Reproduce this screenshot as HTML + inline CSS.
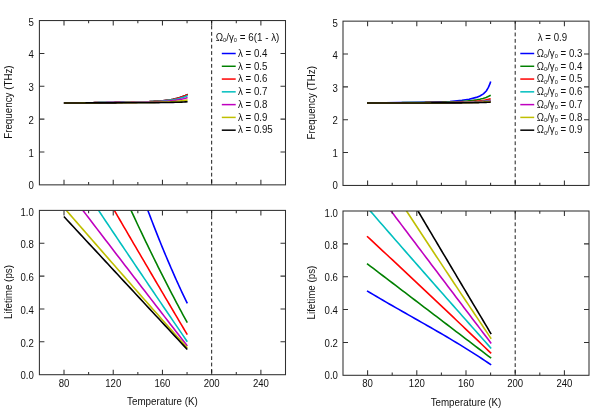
<!DOCTYPE html>
<html><head><meta charset="utf-8"><title>plot</title>
<style>
html,body{margin:0;padding:0;background:#fff;}
body{width:600px;height:420px;overflow:hidden;}
svg{display:block;opacity:0.999;will-change:transform;font-family:"Liberation Sans",sans-serif;fill:#111;}
</style></head><body>
<svg width="600" height="420" viewBox="0 0 600 420">
<rect width="600" height="420" fill="#fff"/>
<defs>
<clipPath id="cBL"><rect x="39.4" y="210.4" width="246.1" height="164.3"/></clipPath>
<clipPath id="cBR"><rect x="343" y="211" width="246" height="164.3"/></clipPath>
</defs>
<path d="M63.90 103.00 L65.96 102.98 L68.02 102.96 L70.08 102.93 L72.15 102.91 L74.21 102.89 L76.27 102.87 L78.33 102.85 L80.39 102.83 L82.45 102.80 L84.52 102.78 L86.58 102.76 L88.64 102.74 L90.70 102.71 L92.76 102.69 L94.82 102.67 L96.89 102.65 L98.95 102.62 L101.01 102.60 L103.07 102.57 L105.13 102.55 L107.19 102.53 L109.26 102.50 L111.32 102.48 L113.38 102.45 L115.44 102.42 L117.50 102.39 L119.56 102.37 L121.63 102.34 L123.69 102.30 L125.75 102.27 L127.81 102.24 L129.87 102.20 L131.94 102.16 L134.00 102.12 L136.06 102.07 L138.12 102.02 L140.18 101.97 L142.24 101.91 L144.30 101.85 L146.37 101.77 L148.43 101.69 L150.49 101.60 L152.55 101.50 L154.61 101.39 L156.67 101.26 L158.74 101.11 L160.80 100.95 L162.86 100.76 L164.92 100.54 L166.98 100.29 L169.04 100.01 L171.11 99.68 L173.17 99.30 L175.23 98.86 L177.29 98.36 L179.35 97.78 L181.41 97.11 L183.48 96.34 L185.54 95.44 L187.60 94.40" fill="none" stroke="#0000ff" stroke-width="1.6" stroke-linejoin="round"/>
<path d="M63.90 103.00 L65.96 102.98 L68.02 102.96 L70.08 102.93 L72.15 102.91 L74.21 102.89 L76.27 102.87 L78.33 102.85 L80.39 102.83 L82.45 102.80 L84.52 102.78 L86.58 102.76 L88.64 102.74 L90.70 102.71 L92.76 102.69 L94.82 102.67 L96.89 102.65 L98.95 102.62 L101.01 102.60 L103.07 102.57 L105.13 102.55 L107.19 102.53 L109.26 102.50 L111.32 102.48 L113.38 102.45 L115.44 102.42 L117.50 102.39 L119.56 102.37 L121.63 102.34 L123.69 102.30 L125.75 102.27 L127.81 102.24 L129.87 102.20 L131.94 102.16 L134.00 102.12 L136.06 102.07 L138.12 102.02 L140.18 101.97 L142.24 101.91 L144.30 101.85 L146.37 101.77 L148.43 101.69 L150.49 101.60 L152.55 101.50 L154.61 101.39 L156.67 101.26 L158.74 101.11 L160.80 100.95 L162.86 100.76 L164.92 100.54 L166.98 100.29 L169.04 100.01 L171.11 99.68 L173.17 99.30 L175.23 98.86 L177.29 98.36 L179.35 97.78 L181.41 97.11 L183.48 96.34 L185.54 95.44 L187.60 94.40" fill="none" stroke="#008000" stroke-width="1.6" stroke-linejoin="round"/>
<path d="M63.90 103.00 L65.96 102.98 L68.02 102.96 L70.08 102.93 L72.15 102.91 L74.21 102.89 L76.27 102.87 L78.33 102.85 L80.39 102.83 L82.45 102.80 L84.52 102.78 L86.58 102.76 L88.64 102.74 L90.70 102.71 L92.76 102.69 L94.82 102.67 L96.89 102.65 L98.95 102.62 L101.01 102.60 L103.07 102.57 L105.13 102.55 L107.19 102.53 L109.26 102.50 L111.32 102.48 L113.38 102.45 L115.44 102.42 L117.50 102.39 L119.56 102.37 L121.63 102.34 L123.69 102.30 L125.75 102.27 L127.81 102.24 L129.87 102.20 L131.94 102.16 L134.00 102.12 L136.06 102.07 L138.12 102.02 L140.18 101.97 L142.24 101.91 L144.30 101.85 L146.37 101.77 L148.43 101.69 L150.49 101.60 L152.55 101.50 L154.61 101.39 L156.67 101.26 L158.74 101.11 L160.80 100.95 L162.86 100.76 L164.92 100.54 L166.98 100.29 L169.04 100.01 L171.11 99.68 L173.17 99.30 L175.23 98.86 L177.29 98.36 L179.35 97.78 L181.41 97.11 L183.48 96.34 L185.54 95.44 L187.60 94.40" fill="none" stroke="#ff0000" stroke-width="1.6" stroke-linejoin="round"/>
<path d="M63.90 103.00 L65.96 102.98 L68.02 102.96 L70.08 102.94 L72.15 102.92 L74.21 102.90 L76.27 102.88 L78.33 102.86 L80.39 102.84 L82.45 102.82 L84.52 102.80 L86.58 102.78 L88.64 102.76 L90.70 102.74 L92.76 102.72 L94.82 102.70 L96.89 102.68 L98.95 102.66 L101.01 102.64 L103.07 102.62 L105.13 102.60 L107.19 102.58 L109.26 102.55 L111.32 102.53 L113.38 102.51 L115.44 102.48 L117.50 102.46 L119.56 102.43 L121.63 102.41 L123.69 102.38 L125.75 102.35 L127.81 102.32 L129.87 102.28 L131.94 102.25 L134.00 102.21 L136.06 102.17 L138.12 102.13 L140.18 102.08 L142.24 102.03 L144.30 101.97 L146.37 101.91 L148.43 101.84 L150.49 101.76 L152.55 101.67 L154.61 101.57 L156.67 101.46 L158.74 101.33 L160.80 101.19 L162.86 101.02 L164.92 100.83 L166.98 100.62 L169.04 100.37 L171.11 100.08 L173.17 99.76 L175.23 99.38 L177.29 98.94 L179.35 98.44 L181.41 97.85 L183.48 97.18 L185.54 96.40 L187.60 95.50" fill="none" stroke="#00bfbf" stroke-width="1.6" stroke-linejoin="round"/>
<path d="M63.90 103.00 L65.96 102.98 L68.02 102.97 L70.08 102.95 L72.15 102.94 L74.21 102.92 L76.27 102.91 L78.33 102.89 L80.39 102.88 L82.45 102.86 L84.52 102.84 L86.58 102.83 L88.64 102.81 L90.70 102.80 L92.76 102.78 L94.82 102.76 L96.89 102.75 L98.95 102.73 L101.01 102.71 L103.07 102.70 L105.13 102.68 L107.19 102.66 L109.26 102.65 L111.32 102.63 L113.38 102.61 L115.44 102.59 L117.50 102.57 L119.56 102.55 L121.63 102.53 L123.69 102.51 L125.75 102.49 L127.81 102.46 L129.87 102.44 L131.94 102.41 L134.00 102.38 L136.06 102.35 L138.12 102.32 L140.18 102.29 L142.24 102.25 L144.30 102.20 L146.37 102.16 L148.43 102.10 L150.49 102.05 L152.55 101.98 L154.61 101.91 L156.67 101.83 L158.74 101.73 L160.80 101.63 L162.86 101.50 L164.92 101.37 L166.98 101.21 L169.04 101.03 L171.11 100.82 L173.17 100.58 L175.23 100.31 L177.29 99.99 L179.35 99.63 L181.41 99.20 L183.48 98.72 L185.54 98.15 L187.60 97.50" fill="none" stroke="#bf00bf" stroke-width="1.6" stroke-linejoin="round"/>
<path d="M63.90 103.00 L65.96 102.99 L68.02 102.98 L70.08 102.97 L72.15 102.96 L74.21 102.95 L76.27 102.94 L78.33 102.93 L80.39 102.92 L82.45 102.91 L84.52 102.89 L86.58 102.88 L88.64 102.87 L90.70 102.86 L92.76 102.85 L94.82 102.84 L96.89 102.83 L98.95 102.82 L101.01 102.81 L103.07 102.80 L105.13 102.79 L107.19 102.78 L109.26 102.76 L111.32 102.75 L113.38 102.74 L115.44 102.73 L117.50 102.72 L119.56 102.70 L121.63 102.69 L123.69 102.68 L125.75 102.66 L127.81 102.65 L129.87 102.63 L131.94 102.62 L134.00 102.60 L136.06 102.58 L138.12 102.56 L140.18 102.54 L142.24 102.52 L144.30 102.49 L146.37 102.47 L148.43 102.44 L150.49 102.40 L152.55 102.37 L154.61 102.33 L156.67 102.28 L158.74 102.23 L160.80 102.17 L162.86 102.11 L164.92 102.03 L166.98 101.95 L169.04 101.85 L171.11 101.74 L173.17 101.62 L175.23 101.47 L177.29 101.31 L179.35 101.11 L181.41 100.89 L183.48 100.64 L185.54 100.34 L187.60 100.00" fill="none" stroke="#bfbf00" stroke-width="1.6" stroke-linejoin="round"/>
<path d="M63.90 103.00 L65.96 102.99 L68.02 102.99 L70.08 102.98 L72.15 102.97 L74.21 102.97 L76.27 102.96 L78.33 102.95 L80.39 102.95 L82.45 102.94 L84.52 102.93 L86.58 102.92 L88.64 102.92 L90.70 102.91 L92.76 102.90 L94.82 102.90 L96.89 102.89 L98.95 102.88 L101.01 102.88 L103.07 102.87 L105.13 102.86 L107.19 102.86 L109.26 102.85 L111.32 102.84 L113.38 102.83 L115.44 102.83 L117.50 102.82 L119.56 102.81 L121.63 102.80 L123.69 102.80 L125.75 102.79 L127.81 102.78 L129.87 102.77 L131.94 102.76 L134.00 102.75 L136.06 102.74 L138.12 102.73 L140.18 102.72 L142.24 102.71 L144.30 102.70 L146.37 102.69 L148.43 102.68 L150.49 102.66 L152.55 102.65 L154.61 102.63 L156.67 102.61 L158.74 102.59 L160.80 102.57 L162.86 102.54 L164.92 102.51 L166.98 102.48 L169.04 102.45 L171.11 102.41 L173.17 102.36 L175.23 102.31 L177.29 102.25 L179.35 102.18 L181.41 102.11 L183.48 102.02 L185.54 101.92 L187.60 101.80" fill="none" stroke="#000000" stroke-width="1.6" stroke-linejoin="round"/>
<path d="M367.00 103.00 L385.00 102.80 L400.00 102.60 L420.00 102.30 L440.00 101.90 L450.00 101.50 L462.00 100.30 L469.10 99.20 L476.30 97.40 L479.90 96.00 L483.40 93.90 L486.30 91.00 L488.40 87.40 L489.90 83.90 L490.70 81.40" fill="none" stroke="#0000ff" stroke-width="1.6" stroke-linejoin="round"/>
<path d="M367.00 103.00 L368.55 102.99 L370.09 102.97 L371.64 102.96 L373.19 102.94 L374.73 102.93 L376.28 102.91 L377.82 102.90 L379.37 102.88 L380.92 102.87 L382.46 102.85 L384.01 102.84 L385.56 102.83 L387.10 102.81 L388.65 102.80 L390.19 102.78 L391.74 102.77 L393.29 102.75 L394.83 102.74 L396.38 102.72 L397.93 102.71 L399.47 102.69 L401.02 102.68 L402.56 102.66 L404.11 102.65 L405.66 102.63 L407.20 102.62 L408.75 102.60 L410.30 102.59 L411.84 102.57 L413.39 102.55 L414.93 102.54 L416.48 102.52 L418.03 102.51 L419.57 102.49 L421.12 102.47 L422.67 102.45 L424.21 102.44 L425.76 102.42 L427.30 102.40 L428.85 102.38 L430.40 102.36 L431.94 102.34 L433.49 102.32 L435.03 102.29 L436.58 102.27 L438.13 102.24 L439.67 102.22 L441.22 102.19 L442.77 102.16 L444.31 102.12 L445.86 102.09 L447.40 102.05 L448.95 102.01 L450.50 101.97 L452.04 101.92 L453.59 101.87 L455.14 101.81 L456.68 101.74 L458.23 101.67 L459.77 101.60 L461.32 101.51 L462.87 101.42 L464.41 101.31 L465.96 101.19 L467.51 101.06 L469.05 100.91 L470.60 100.74 L472.14 100.56 L473.69 100.35 L475.24 100.11 L476.78 99.85 L478.33 99.55 L479.88 99.22 L481.42 98.84 L482.97 98.41 L484.51 97.93 L486.06 97.39 L487.61 96.78 L489.15 96.08 L490.70 95.30" fill="none" stroke="#008000" stroke-width="1.6" stroke-linejoin="round"/>
<path d="M367.00 103.00 L368.55 102.99 L370.09 102.98 L371.64 102.98 L373.19 102.97 L374.73 102.96 L376.28 102.95 L377.82 102.94 L379.37 102.94 L380.92 102.93 L382.46 102.92 L384.01 102.91 L385.56 102.90 L387.10 102.89 L388.65 102.89 L390.19 102.88 L391.74 102.87 L393.29 102.86 L394.83 102.85 L396.38 102.85 L397.93 102.84 L399.47 102.83 L401.02 102.82 L402.56 102.81 L404.11 102.80 L405.66 102.79 L407.20 102.79 L408.75 102.78 L410.30 102.77 L411.84 102.76 L413.39 102.75 L414.93 102.74 L416.48 102.73 L418.03 102.72 L419.57 102.71 L421.12 102.70 L422.67 102.69 L424.21 102.68 L425.76 102.67 L427.30 102.66 L428.85 102.65 L430.40 102.64 L431.94 102.63 L433.49 102.62 L435.03 102.60 L436.58 102.59 L438.13 102.58 L439.67 102.56 L441.22 102.55 L442.77 102.53 L444.31 102.51 L445.86 102.49 L447.40 102.47 L448.95 102.45 L450.50 102.42 L452.04 102.40 L453.59 102.37 L455.14 102.33 L456.68 102.30 L458.23 102.26 L459.77 102.22 L461.32 102.17 L462.87 102.12 L464.41 102.06 L465.96 101.99 L467.51 101.92 L469.05 101.83 L470.60 101.74 L472.14 101.64 L473.69 101.52 L475.24 101.39 L476.78 101.24 L478.33 101.08 L479.88 100.89 L481.42 100.68 L482.97 100.44 L484.51 100.17 L486.06 99.87 L487.61 99.52 L489.15 99.14 L490.70 98.70" fill="none" stroke="#ff0000" stroke-width="1.6" stroke-linejoin="round"/>
<path d="M367.00 103.00 L368.55 102.99 L370.09 102.99 L371.64 102.98 L373.19 102.98 L374.73 102.97 L376.28 102.97 L377.82 102.96 L379.37 102.96 L380.92 102.95 L382.46 102.95 L384.01 102.94 L385.56 102.94 L387.10 102.93 L388.65 102.93 L390.19 102.92 L391.74 102.92 L393.29 102.91 L394.83 102.91 L396.38 102.90 L397.93 102.90 L399.47 102.89 L401.02 102.89 L402.56 102.88 L404.11 102.88 L405.66 102.87 L407.20 102.87 L408.75 102.86 L410.30 102.85 L411.84 102.85 L413.39 102.84 L414.93 102.84 L416.48 102.83 L418.03 102.83 L419.57 102.82 L421.12 102.81 L422.67 102.81 L424.21 102.80 L425.76 102.80 L427.30 102.79 L428.85 102.78 L430.40 102.78 L431.94 102.77 L433.49 102.76 L435.03 102.75 L436.58 102.74 L438.13 102.73 L439.67 102.73 L441.22 102.72 L442.77 102.70 L444.31 102.69 L445.86 102.68 L447.40 102.67 L448.95 102.65 L450.50 102.64 L452.04 102.62 L453.59 102.60 L455.14 102.58 L456.68 102.56 L458.23 102.54 L459.77 102.51 L461.32 102.48 L462.87 102.44 L464.41 102.41 L465.96 102.37 L467.51 102.32 L469.05 102.27 L470.60 102.21 L472.14 102.14 L473.69 102.07 L475.24 101.99 L476.78 101.90 L478.33 101.79 L479.88 101.67 L481.42 101.54 L482.97 101.39 L484.51 101.22 L486.06 101.03 L487.61 100.82 L489.15 100.57 L490.70 100.30" fill="none" stroke="#00bfbf" stroke-width="1.6" stroke-linejoin="round"/>
<path d="M367.00 103.00 L368.55 103.00 L370.09 102.99 L371.64 102.99 L373.19 102.98 L374.73 102.98 L376.28 102.98 L377.82 102.97 L379.37 102.97 L380.92 102.96 L382.46 102.96 L384.01 102.96 L385.56 102.95 L387.10 102.95 L388.65 102.94 L390.19 102.94 L391.74 102.94 L393.29 102.93 L394.83 102.93 L396.38 102.92 L397.93 102.92 L399.47 102.92 L401.02 102.91 L402.56 102.91 L404.11 102.90 L405.66 102.90 L407.20 102.90 L408.75 102.89 L410.30 102.89 L411.84 102.88 L413.39 102.88 L414.93 102.87 L416.48 102.87 L418.03 102.87 L419.57 102.86 L421.12 102.86 L422.67 102.85 L424.21 102.85 L425.76 102.84 L427.30 102.84 L428.85 102.83 L430.40 102.83 L431.94 102.82 L433.49 102.81 L435.03 102.81 L436.58 102.80 L438.13 102.79 L439.67 102.79 L441.22 102.78 L442.77 102.77 L444.31 102.76 L445.86 102.75 L447.40 102.74 L448.95 102.73 L450.50 102.72 L452.04 102.71 L453.59 102.69 L455.14 102.67 L456.68 102.66 L458.23 102.64 L459.77 102.62 L461.32 102.59 L462.87 102.57 L464.41 102.54 L465.96 102.51 L467.51 102.47 L469.05 102.43 L470.60 102.38 L472.14 102.33 L473.69 102.28 L475.24 102.21 L476.78 102.14 L478.33 102.06 L479.88 101.97 L481.42 101.87 L482.97 101.75 L484.51 101.62 L486.06 101.47 L487.61 101.30 L489.15 101.11 L490.70 100.90" fill="none" stroke="#bf00bf" stroke-width="1.6" stroke-linejoin="round"/>
<path d="M367.00 103.00 L368.55 103.00 L370.09 102.99 L371.64 102.99 L373.19 102.99 L374.73 102.99 L376.28 102.98 L377.82 102.98 L379.37 102.98 L380.92 102.97 L382.46 102.97 L384.01 102.97 L385.56 102.97 L387.10 102.96 L388.65 102.96 L390.19 102.96 L391.74 102.95 L393.29 102.95 L394.83 102.95 L396.38 102.95 L397.93 102.94 L399.47 102.94 L401.02 102.94 L402.56 102.93 L404.11 102.93 L405.66 102.93 L407.20 102.93 L408.75 102.92 L410.30 102.92 L411.84 102.92 L413.39 102.91 L414.93 102.91 L416.48 102.91 L418.03 102.90 L419.57 102.90 L421.12 102.90 L422.67 102.89 L424.21 102.89 L425.76 102.89 L427.30 102.88 L428.85 102.88 L430.40 102.88 L431.94 102.87 L433.49 102.87 L435.03 102.86 L436.58 102.86 L438.13 102.85 L439.67 102.85 L441.22 102.84 L442.77 102.84 L444.31 102.83 L445.86 102.82 L447.40 102.82 L448.95 102.81 L450.50 102.80 L452.04 102.79 L453.59 102.78 L455.14 102.77 L456.68 102.76 L458.23 102.74 L459.77 102.73 L461.32 102.71 L462.87 102.69 L464.41 102.67 L465.96 102.65 L467.51 102.62 L469.05 102.59 L470.60 102.56 L472.14 102.52 L473.69 102.48 L475.24 102.44 L476.78 102.39 L478.33 102.33 L479.88 102.26 L481.42 102.19 L482.97 102.11 L484.51 102.01 L486.06 101.91 L487.61 101.79 L489.15 101.65 L490.70 101.50" fill="none" stroke="#bfbf00" stroke-width="1.6" stroke-linejoin="round"/>
<path d="M367.00 103.00 L368.55 103.00 L370.09 103.00 L371.64 102.99 L373.19 102.99 L374.73 102.99 L376.28 102.99 L377.82 102.99 L379.37 102.99 L380.92 102.98 L382.46 102.98 L384.01 102.98 L385.56 102.98 L387.10 102.98 L388.65 102.98 L390.19 102.97 L391.74 102.97 L393.29 102.97 L394.83 102.97 L396.38 102.97 L397.93 102.97 L399.47 102.96 L401.02 102.96 L402.56 102.96 L404.11 102.96 L405.66 102.96 L407.20 102.96 L408.75 102.95 L410.30 102.95 L411.84 102.95 L413.39 102.95 L414.93 102.95 L416.48 102.94 L418.03 102.94 L419.57 102.94 L421.12 102.94 L422.67 102.94 L424.21 102.93 L425.76 102.93 L427.30 102.93 L428.85 102.93 L430.40 102.93 L431.94 102.92 L433.49 102.92 L435.03 102.92 L436.58 102.91 L438.13 102.91 L439.67 102.91 L441.22 102.91 L442.77 102.90 L444.31 102.90 L445.86 102.89 L447.40 102.89 L448.95 102.88 L450.50 102.88 L452.04 102.87 L453.59 102.87 L455.14 102.86 L456.68 102.85 L458.23 102.85 L459.77 102.84 L461.32 102.83 L462.87 102.81 L464.41 102.80 L465.96 102.79 L467.51 102.77 L469.05 102.76 L470.60 102.74 L472.14 102.71 L473.69 102.69 L475.24 102.66 L476.78 102.63 L478.33 102.60 L479.88 102.56 L481.42 102.51 L482.97 102.46 L484.51 102.41 L486.06 102.34 L487.61 102.27 L489.15 102.19 L490.70 102.10" fill="none" stroke="#000000" stroke-width="1.6" stroke-linejoin="round"/>
<path d="M145.00 202.69 L146.08 205.62 L147.17 208.52 L148.25 211.42 L149.34 214.29 L150.42 217.14 L151.51 219.98 L152.59 222.80 L153.68 225.60 L154.76 228.38 L155.85 231.15 L156.93 233.89 L158.02 236.62 L159.10 239.33 L160.18 242.02 L161.27 244.70 L162.35 247.35 L163.44 249.99 L164.52 252.61 L165.61 255.21 L166.69 257.79 L167.78 260.36 L168.86 262.91 L169.95 265.43 L171.03 267.95 L172.12 270.44 L173.20 272.91 L174.28 275.37 L175.37 277.81 L176.45 280.23 L177.54 282.63 L178.62 285.01 L179.71 287.38 L180.79 289.72 L181.88 292.05 L182.96 294.36 L184.05 296.66 L185.13 298.93 L186.22 301.19 L187.30 303.43" fill="none" stroke="#0000ff" stroke-width="1.6" stroke-linejoin="round" clip-path="url(#cBL)"/>
<path d="M127.60 202.87 L129.13 206.22 L130.66 209.54 L132.19 212.86 L133.72 216.16 L135.25 219.44 L136.78 222.72 L138.32 225.97 L139.85 229.22 L141.38 232.44 L142.91 235.66 L144.44 238.86 L145.97 242.05 L147.50 245.22 L149.03 248.38 L150.56 251.52 L152.09 254.65 L153.62 257.77 L155.15 260.87 L156.68 263.95 L158.22 267.03 L159.75 270.08 L161.28 273.13 L162.81 276.16 L164.34 279.18 L165.87 282.18 L167.40 285.17 L168.93 288.14 L170.46 291.10 L171.99 294.04 L173.52 296.97 L175.05 299.89 L176.58 302.79 L178.12 305.68 L179.65 308.56 L181.18 311.42 L182.71 314.26 L184.24 317.09 L185.77 319.91 L187.30 322.71" fill="none" stroke="#008000" stroke-width="1.6" stroke-linejoin="round" clip-path="url(#cBL)"/>
<path d="M110.00 202.98 L111.98 206.39 L113.96 209.79 L115.95 213.20 L117.93 216.61 L119.91 220.01 L121.89 223.41 L123.87 226.81 L125.86 230.21 L127.84 233.61 L129.82 237.00 L131.80 240.39 L133.78 243.78 L135.77 247.17 L137.75 250.56 L139.73 253.95 L141.71 257.33 L143.69 260.71 L145.68 264.09 L147.66 267.47 L149.64 270.85 L151.62 274.22 L153.61 277.60 L155.59 280.97 L157.57 284.34 L159.55 287.71 L161.53 291.07 L163.52 294.44 L165.50 297.80 L167.48 301.16 L169.46 304.52 L171.44 307.88 L173.43 311.24 L175.41 314.59 L177.39 317.94 L179.37 321.29 L181.35 324.64 L183.34 327.99 L185.32 331.33 L187.30 334.68" fill="none" stroke="#ff0000" stroke-width="1.6" stroke-linejoin="round" clip-path="url(#cBL)"/>
<path d="M93.60 202.96 L96.00 206.56 L98.41 210.16 L100.81 213.75 L103.21 217.35 L105.61 220.94 L108.02 224.53 L110.42 228.12 L112.82 231.70 L115.22 235.28 L117.63 238.87 L120.03 242.44 L122.43 246.02 L124.83 249.59 L127.24 253.16 L129.64 256.73 L132.04 260.30 L134.44 263.86 L136.85 267.43 L139.25 270.99 L141.65 274.54 L144.05 278.10 L146.46 281.65 L148.86 285.20 L151.26 288.75 L153.66 292.30 L156.07 295.84 L158.47 299.38 L160.87 302.92 L163.27 306.46 L165.68 309.99 L168.08 313.53 L170.48 317.06 L172.88 320.58 L175.29 324.11 L177.69 327.63 L180.09 331.15 L182.49 334.67 L184.90 338.19 L187.30 341.70" fill="none" stroke="#00bfbf" stroke-width="1.6" stroke-linejoin="round" clip-path="url(#cBL)"/>
<path d="M77.30 203.03 L80.12 206.73 L82.94 210.42 L85.76 214.12 L88.58 217.81 L91.40 221.50 L94.22 225.19 L97.04 228.88 L99.86 232.56 L102.68 236.25 L105.51 239.93 L108.33 243.61 L111.15 247.29 L113.97 250.97 L116.79 254.65 L119.61 258.32 L122.43 261.99 L125.25 265.66 L128.07 269.33 L130.89 273.00 L133.71 276.67 L136.53 280.33 L139.35 283.99 L142.17 287.65 L144.99 291.31 L147.81 294.97 L150.63 298.63 L153.45 302.28 L156.27 305.93 L159.09 309.58 L161.92 313.23 L164.74 316.88 L167.56 320.53 L170.38 324.17 L173.20 327.81 L176.02 331.45 L178.84 335.09 L181.66 338.73 L184.48 342.36 L187.30 346.00" fill="none" stroke="#bf00bf" stroke-width="1.6" stroke-linejoin="round" clip-path="url(#cBL)"/>
<path d="M63.90 207.56 L67.06 211.21 L70.23 214.85 L73.39 218.48 L76.56 222.12 L79.72 225.76 L82.88 229.39 L86.05 233.02 L89.21 236.64 L92.38 240.27 L95.54 243.89 L98.71 247.51 L101.87 251.13 L105.03 254.74 L108.20 258.35 L111.36 261.96 L114.53 265.57 L117.69 269.18 L120.85 272.78 L124.02 276.38 L127.18 279.98 L130.35 283.58 L133.51 287.17 L136.67 290.76 L139.84 294.35 L143.00 297.94 L146.17 301.52 L149.33 305.10 L152.49 308.68 L155.66 312.26 L158.82 315.83 L161.99 319.41 L165.15 322.98 L168.32 326.54 L171.48 330.11 L174.64 333.67 L177.81 337.23 L180.97 340.79 L184.14 344.35 L187.30 347.90" fill="none" stroke="#bfbf00" stroke-width="1.6" stroke-linejoin="round" clip-path="url(#cBL)"/>
<path d="M63.90 216.57 L67.06 219.98 L70.23 223.39 L73.39 226.80 L76.56 230.21 L79.72 233.62 L82.88 237.03 L86.05 240.43 L89.21 243.84 L92.38 247.25 L95.54 250.66 L98.71 254.07 L101.87 257.48 L105.03 260.89 L108.20 264.30 L111.36 267.70 L114.53 271.11 L117.69 274.52 L120.85 277.93 L124.02 281.34 L127.18 284.75 L130.35 288.16 L133.51 291.56 L136.67 294.97 L139.84 298.38 L143.00 301.79 L146.17 305.20 L149.33 308.61 L152.49 312.02 L155.66 315.43 L158.82 318.83 L161.99 322.24 L165.15 325.65 L168.32 329.06 L171.48 332.47 L174.64 335.88 L177.81 339.29 L180.97 342.69 L184.14 346.10 L187.30 349.51" fill="none" stroke="#000000" stroke-width="1.6" stroke-linejoin="round" clip-path="url(#cBL)"/>
<path d="M367.00 290.85 L370.18 292.76 L373.37 294.66 L376.55 296.54 L379.74 298.41 L382.92 300.27 L386.11 302.12 L389.29 303.96 L392.48 305.79 L395.66 307.61 L398.85 309.43 L402.03 311.24 L405.22 313.05 L408.40 314.86 L411.58 316.66 L414.77 318.47 L417.95 320.28 L421.14 322.09 L424.32 323.90 L427.51 325.72 L430.69 327.54 L433.88 329.37 L437.06 331.21 L440.25 333.06 L443.43 334.92 L446.62 336.80 L449.80 338.68 L452.98 340.58 L456.17 342.50 L459.35 344.43 L462.54 346.38 L465.72 348.35 L468.91 350.34 L472.09 352.35 L475.28 354.38 L478.46 356.44 L481.65 358.52 L484.83 360.63 L488.02 362.77 L491.20 364.93" fill="none" stroke="#0000ff" stroke-width="1.6" stroke-linejoin="round" clip-path="url(#cBR)"/>
<path d="M367.00 263.61 L370.18 266.03 L373.37 268.46 L376.55 270.88 L379.74 273.31 L382.92 275.74 L386.11 278.16 L389.29 280.59 L392.48 283.01 L395.66 285.44 L398.85 287.86 L402.03 290.29 L405.22 292.71 L408.40 295.14 L411.58 297.56 L414.77 299.99 L417.95 302.42 L421.14 304.84 L424.32 307.27 L427.51 309.69 L430.69 312.12 L433.88 314.54 L437.06 316.97 L440.25 319.39 L443.43 321.82 L446.62 324.25 L449.80 326.67 L452.98 329.10 L456.17 331.52 L459.35 333.95 L462.54 336.37 L465.72 338.80 L468.91 341.22 L472.09 343.65 L475.28 346.07 L478.46 348.50 L481.65 350.93 L484.83 353.35 L488.02 355.78 L491.20 358.20" fill="none" stroke="#008000" stroke-width="1.6" stroke-linejoin="round" clip-path="url(#cBR)"/>
<path d="M367.00 236.24 L370.18 239.20 L373.37 242.15 L376.55 245.12 L379.74 248.08 L382.92 251.05 L386.11 254.02 L389.29 256.99 L392.48 259.96 L395.66 262.94 L398.85 265.92 L402.03 268.90 L405.22 271.88 L408.40 274.87 L411.58 277.86 L414.77 280.85 L417.95 283.84 L421.14 286.84 L424.32 289.84 L427.51 292.84 L430.69 295.84 L433.88 298.85 L437.06 301.86 L440.25 304.87 L443.43 307.88 L446.62 310.90 L449.80 313.92 L452.98 316.94 L456.17 319.96 L459.35 322.99 L462.54 326.02 L465.72 329.05 L468.91 332.08 L472.09 335.12 L475.28 338.16 L478.46 341.20 L481.65 344.24 L484.83 347.29 L488.02 350.33 L491.20 353.38" fill="none" stroke="#ff0000" stroke-width="1.6" stroke-linejoin="round" clip-path="url(#cBR)"/>
<path d="M367.00 207.26 L370.18 210.93 L373.37 214.59 L376.55 218.26 L379.74 221.91 L382.92 225.57 L386.11 229.22 L389.29 232.88 L392.48 236.52 L395.66 240.17 L398.85 243.81 L402.03 247.46 L405.22 251.10 L408.40 254.73 L411.58 258.37 L414.77 262.00 L417.95 265.63 L421.14 269.25 L424.32 272.88 L427.51 276.50 L430.69 280.12 L433.88 283.74 L437.06 287.35 L440.25 290.96 L443.43 294.57 L446.62 298.18 L449.80 301.78 L452.98 305.39 L456.17 308.99 L459.35 312.58 L462.54 316.18 L465.72 319.77 L468.91 323.36 L472.09 326.95 L475.28 330.53 L478.46 334.12 L481.65 337.70 L484.83 341.27 L488.02 344.85 L491.20 348.42" fill="none" stroke="#00bfbf" stroke-width="1.6" stroke-linejoin="round" clip-path="url(#cBR)"/>
<path d="M385.40 203.51 L388.11 207.11 L390.83 210.71 L393.54 214.32 L396.25 217.92 L398.96 221.52 L401.68 225.12 L404.39 228.71 L407.10 232.31 L409.82 235.91 L412.53 239.50 L415.24 243.10 L417.95 246.69 L420.67 250.29 L423.38 253.88 L426.09 257.47 L428.81 261.06 L431.52 264.65 L434.23 268.24 L436.94 271.83 L439.66 275.42 L442.37 279.00 L445.08 282.59 L447.79 286.17 L450.51 289.76 L453.22 293.34 L455.93 296.92 L458.65 300.50 L461.36 304.08 L464.07 307.66 L466.78 311.24 L469.50 314.82 L472.21 318.40 L474.92 321.98 L477.64 325.55 L480.35 329.13 L483.06 332.70 L485.77 336.27 L488.49 339.85 L491.20 343.42" fill="none" stroke="#bf00bf" stroke-width="1.6" stroke-linejoin="round" clip-path="url(#cBR)"/>
<path d="M401.60 203.48 L403.90 207.00 L406.19 210.51 L408.49 214.02 L410.79 217.52 L413.09 221.03 L415.38 224.53 L417.68 228.03 L419.98 231.53 L422.28 235.03 L424.57 238.52 L426.87 242.01 L429.17 245.50 L431.47 248.98 L433.76 252.46 L436.06 255.95 L438.36 259.42 L440.66 262.90 L442.95 266.37 L445.25 269.84 L447.55 273.31 L449.85 276.78 L452.14 280.24 L454.44 283.70 L456.74 287.16 L459.04 290.62 L461.33 294.07 L463.63 297.52 L465.93 300.97 L468.23 304.42 L470.52 307.86 L472.82 311.30 L475.12 314.74 L477.42 318.18 L479.71 321.61 L482.01 325.05 L484.31 328.47 L486.61 331.90 L488.90 335.33 L491.20 338.75" fill="none" stroke="#bfbf00" stroke-width="1.6" stroke-linejoin="round" clip-path="url(#cBR)"/>
<path d="M413.50 203.43 L415.49 206.79 L417.48 210.16 L419.48 213.52 L421.47 216.88 L423.46 220.25 L425.45 223.61 L427.45 226.97 L429.44 230.33 L431.43 233.69 L433.42 237.04 L435.42 240.40 L437.41 243.76 L439.40 247.12 L441.39 250.47 L443.38 253.83 L445.38 257.18 L447.37 260.53 L449.36 263.89 L451.35 267.24 L453.35 270.59 L455.34 273.94 L457.33 277.29 L459.32 280.64 L461.32 283.99 L463.31 287.34 L465.30 290.68 L467.29 294.03 L469.28 297.38 L471.28 300.72 L473.27 304.07 L475.26 307.41 L477.25 310.75 L479.25 314.10 L481.24 317.44 L483.23 320.78 L485.22 324.12 L487.22 327.46 L489.21 330.80 L491.20 334.14" fill="none" stroke="#000000" stroke-width="1.6" stroke-linejoin="round" clip-path="url(#cBR)"/>
<rect x="39.40" y="20.55" width="246.10" height="164.30" fill="none" stroke="#303030" stroke-width="1.05"/>
<path d="M64.01 184.85v-5.0M64.01 20.55v5.0" stroke="#303030" stroke-width="1.05"/>
<path d="M88.62 184.85v-2.8M88.62 20.55v2.8" stroke="#303030" stroke-width="1.05"/>
<path d="M113.23 184.85v-5.0M113.23 20.55v5.0" stroke="#303030" stroke-width="1.05"/>
<path d="M137.84 184.85v-2.8M137.84 20.55v2.8" stroke="#303030" stroke-width="1.05"/>
<path d="M162.45 184.85v-5.0M162.45 20.55v5.0" stroke="#303030" stroke-width="1.05"/>
<path d="M187.06 184.85v-2.8M187.06 20.55v2.8" stroke="#303030" stroke-width="1.05"/>
<path d="M211.67 184.85v-5.0M211.67 20.55v5.0" stroke="#303030" stroke-width="1.05"/>
<path d="M236.28 184.85v-2.8M236.28 20.55v2.8" stroke="#303030" stroke-width="1.05"/>
<path d="M260.89 184.85v-5.0M260.89 20.55v5.0" stroke="#303030" stroke-width="1.05"/>
<text transform="translate(33.80 188.65) scale(0.9600 1)" font-size="10.00" text-anchor="end">0</text>
<path d="M39.40 151.99h5M285.50 151.99h-5" stroke="#303030" stroke-width="1.05"/>
<text transform="translate(33.80 156.69) scale(0.9600 1)" font-size="10.00" text-anchor="end">1</text>
<path d="M39.40 119.13h5M285.50 119.13h-5" stroke="#303030" stroke-width="1.05"/>
<text transform="translate(33.80 123.83) scale(0.9600 1)" font-size="10.00" text-anchor="end">2</text>
<path d="M39.40 86.27h5M285.50 86.27h-5" stroke="#303030" stroke-width="1.05"/>
<text transform="translate(33.80 90.97) scale(0.9600 1)" font-size="10.00" text-anchor="end">3</text>
<path d="M39.40 53.41h5M285.50 53.41h-5" stroke="#303030" stroke-width="1.05"/>
<text transform="translate(33.80 58.11) scale(0.9600 1)" font-size="10.00" text-anchor="end">4</text>
<text transform="translate(33.80 26.45) scale(0.9600 1)" font-size="10.00" text-anchor="end">5</text>
<path d="M211.67 20.55V184.85" stroke="#111" stroke-width="0.95" stroke-dasharray="3.8 2.6" stroke-dashoffset="1.4"/>
<text transform="translate(11.50 102.10) rotate(-90) scale(0.9800 1)" font-size="10.00" text-anchor="middle">Frequency (THz)</text>
<rect x="343.00" y="21.15" width="246.00" height="164.30" fill="none" stroke="#303030" stroke-width="1.05"/>
<path d="M367.60 185.45v-5.0M367.60 21.15v5.0" stroke="#303030" stroke-width="1.05"/>
<path d="M392.20 185.45v-2.8M392.20 21.15v2.8" stroke="#303030" stroke-width="1.05"/>
<path d="M416.80 185.45v-5.0M416.80 21.15v5.0" stroke="#303030" stroke-width="1.05"/>
<path d="M441.40 185.45v-2.8M441.40 21.15v2.8" stroke="#303030" stroke-width="1.05"/>
<path d="M466.00 185.45v-5.0M466.00 21.15v5.0" stroke="#303030" stroke-width="1.05"/>
<path d="M490.60 185.45v-2.8M490.60 21.15v2.8" stroke="#303030" stroke-width="1.05"/>
<path d="M515.20 185.45v-5.0M515.20 21.15v5.0" stroke="#303030" stroke-width="1.05"/>
<path d="M539.80 185.45v-2.8M539.80 21.15v2.8" stroke="#303030" stroke-width="1.05"/>
<path d="M564.40 185.45v-5.0M564.40 21.15v5.0" stroke="#303030" stroke-width="1.05"/>
<text transform="translate(337.90 189.25) scale(0.9600 1)" font-size="10.00" text-anchor="end">0</text>
<path d="M343.00 152.59h5M589.00 152.59h-5" stroke="#303030" stroke-width="1.05"/>
<text transform="translate(337.90 157.29) scale(0.9600 1)" font-size="10.00" text-anchor="end">1</text>
<path d="M343.00 119.73h5M589.00 119.73h-5" stroke="#303030" stroke-width="1.05"/>
<text transform="translate(337.90 124.43) scale(0.9600 1)" font-size="10.00" text-anchor="end">2</text>
<path d="M343.00 86.87h5M589.00 86.87h-5" stroke="#303030" stroke-width="1.05"/>
<text transform="translate(337.90 91.57) scale(0.9600 1)" font-size="10.00" text-anchor="end">3</text>
<path d="M343.00 54.01h5M589.00 54.01h-5" stroke="#303030" stroke-width="1.05"/>
<text transform="translate(337.90 58.71) scale(0.9600 1)" font-size="10.00" text-anchor="end">4</text>
<text transform="translate(337.90 27.05) scale(0.9600 1)" font-size="10.00" text-anchor="end">5</text>
<path d="M515.20 21.15V185.45" stroke="#111" stroke-width="0.95" stroke-dasharray="3.8 2.6" stroke-dashoffset="1.4"/>
<text transform="translate(315.20 102.70) rotate(-90) scale(0.9800 1)" font-size="10.00" text-anchor="middle">Frequency (THz)</text>
<rect x="39.40" y="210.40" width="246.10" height="164.30" fill="none" stroke="#303030" stroke-width="1.05"/>
<path d="M64.01 374.70v-5.0M64.01 210.40v5.0" stroke="#303030" stroke-width="1.05"/>
<text transform="translate(64.01 386.70) scale(0.9600 1)" font-size="10.00" text-anchor="middle">80</text>
<path d="M88.62 374.70v-2.8M88.62 210.40v2.8" stroke="#303030" stroke-width="1.05"/>
<path d="M113.23 374.70v-5.0M113.23 210.40v5.0" stroke="#303030" stroke-width="1.05"/>
<text transform="translate(113.23 386.70) scale(0.9600 1)" font-size="10.00" text-anchor="middle">120</text>
<path d="M137.84 374.70v-2.8M137.84 210.40v2.8" stroke="#303030" stroke-width="1.05"/>
<path d="M162.45 374.70v-5.0M162.45 210.40v5.0" stroke="#303030" stroke-width="1.05"/>
<text transform="translate(162.45 386.70) scale(0.9600 1)" font-size="10.00" text-anchor="middle">160</text>
<path d="M187.06 374.70v-2.8M187.06 210.40v2.8" stroke="#303030" stroke-width="1.05"/>
<path d="M211.67 374.70v-5.0M211.67 210.40v5.0" stroke="#303030" stroke-width="1.05"/>
<text transform="translate(211.67 386.70) scale(0.9600 1)" font-size="10.00" text-anchor="middle">200</text>
<path d="M236.28 374.70v-2.8M236.28 210.40v2.8" stroke="#303030" stroke-width="1.05"/>
<path d="M260.89 374.70v-5.0M260.89 210.40v5.0" stroke="#303030" stroke-width="1.05"/>
<text transform="translate(260.89 386.70) scale(0.9600 1)" font-size="10.00" text-anchor="middle">240</text>
<text transform="translate(33.80 378.50) scale(0.9600 1)" font-size="10.00" text-anchor="end">0.0</text>
<path d="M39.40 341.84h5M285.50 341.84h-5" stroke="#303030" stroke-width="1.05"/>
<text transform="translate(33.80 346.54) scale(0.9600 1)" font-size="10.00" text-anchor="end">0.2</text>
<path d="M39.40 308.98h5M285.50 308.98h-5" stroke="#303030" stroke-width="1.05"/>
<text transform="translate(33.80 313.68) scale(0.9600 1)" font-size="10.00" text-anchor="end">0.4</text>
<path d="M39.40 276.12h5M285.50 276.12h-5" stroke="#303030" stroke-width="1.05"/>
<text transform="translate(33.80 280.82) scale(0.9600 1)" font-size="10.00" text-anchor="end">0.6</text>
<path d="M39.40 243.26h5M285.50 243.26h-5" stroke="#303030" stroke-width="1.05"/>
<text transform="translate(33.80 247.96) scale(0.9600 1)" font-size="10.00" text-anchor="end">0.8</text>
<text transform="translate(33.80 216.30) scale(0.9600 1)" font-size="10.00" text-anchor="end">1.0</text>
<path d="M211.67 210.40V374.70" stroke="#111" stroke-width="0.95" stroke-dasharray="3.8 2.6" stroke-dashoffset="1.4"/>
<text transform="translate(11.50 291.95) rotate(-90) scale(0.9800 1)" font-size="10.00" text-anchor="middle">Lifetime (ps)</text>
<text transform="translate(162.45 404.90) scale(0.9800 1)" font-size="10.00" text-anchor="middle">Temperature (K)</text>
<rect x="343.00" y="211.00" width="246.00" height="164.30" fill="none" stroke="#303030" stroke-width="1.05"/>
<path d="M367.60 375.30v-5.0M367.60 211.00v5.0" stroke="#303030" stroke-width="1.05"/>
<text transform="translate(367.60 387.30) scale(0.9600 1)" font-size="10.00" text-anchor="middle">80</text>
<path d="M392.20 375.30v-2.8M392.20 211.00v2.8" stroke="#303030" stroke-width="1.05"/>
<path d="M416.80 375.30v-5.0M416.80 211.00v5.0" stroke="#303030" stroke-width="1.05"/>
<text transform="translate(416.80 387.30) scale(0.9600 1)" font-size="10.00" text-anchor="middle">120</text>
<path d="M441.40 375.30v-2.8M441.40 211.00v2.8" stroke="#303030" stroke-width="1.05"/>
<path d="M466.00 375.30v-5.0M466.00 211.00v5.0" stroke="#303030" stroke-width="1.05"/>
<text transform="translate(466.00 387.30) scale(0.9600 1)" font-size="10.00" text-anchor="middle">160</text>
<path d="M490.60 375.30v-2.8M490.60 211.00v2.8" stroke="#303030" stroke-width="1.05"/>
<path d="M515.20 375.30v-5.0M515.20 211.00v5.0" stroke="#303030" stroke-width="1.05"/>
<text transform="translate(515.20 387.30) scale(0.9600 1)" font-size="10.00" text-anchor="middle">200</text>
<path d="M539.80 375.30v-2.8M539.80 211.00v2.8" stroke="#303030" stroke-width="1.05"/>
<path d="M564.40 375.30v-5.0M564.40 211.00v5.0" stroke="#303030" stroke-width="1.05"/>
<text transform="translate(564.40 387.30) scale(0.9600 1)" font-size="10.00" text-anchor="middle">240</text>
<text transform="translate(337.90 379.10) scale(0.9600 1)" font-size="10.00" text-anchor="end">0.0</text>
<path d="M343.00 342.44h5M589.00 342.44h-5" stroke="#303030" stroke-width="1.05"/>
<text transform="translate(337.90 347.14) scale(0.9600 1)" font-size="10.00" text-anchor="end">0.2</text>
<path d="M343.00 309.58h5M589.00 309.58h-5" stroke="#303030" stroke-width="1.05"/>
<text transform="translate(337.90 314.28) scale(0.9600 1)" font-size="10.00" text-anchor="end">0.4</text>
<path d="M343.00 276.72h5M589.00 276.72h-5" stroke="#303030" stroke-width="1.05"/>
<text transform="translate(337.90 281.42) scale(0.9600 1)" font-size="10.00" text-anchor="end">0.6</text>
<path d="M343.00 243.86h5M589.00 243.86h-5" stroke="#303030" stroke-width="1.05"/>
<text transform="translate(337.90 248.56) scale(0.9600 1)" font-size="10.00" text-anchor="end">0.8</text>
<text transform="translate(337.90 216.90) scale(0.9600 1)" font-size="10.00" text-anchor="end">1.0</text>
<path d="M515.20 211.00V375.30" stroke="#111" stroke-width="0.95" stroke-dasharray="3.8 2.6" stroke-dashoffset="1.4"/>
<text transform="translate(315.20 292.55) rotate(-90) scale(0.9800 1)" font-size="10.00" text-anchor="middle">Lifetime (ps)</text>
<text transform="translate(466.00 405.50) scale(0.9800 1)" font-size="10.00" text-anchor="middle">Temperature (K)</text>
<text transform="translate(247.50 40.70) scale(0.9850 1)" font-size="10.00" text-anchor="middle">Ω<tspan font-size="5.8" dy="1.5">0</tspan><tspan dy="-1.5">/γ</tspan><tspan font-size="5.8" dy="1.5">0</tspan><tspan dy="-1.5"> = 6(1 - λ)</tspan></text>
<path d="M221.8 53.50H235.7" stroke="#0000ff" stroke-width="1.5"/>
<text transform="translate(238.00 56.80) scale(0.9700 1)" font-size="10.00" text-anchor="start">λ = 0.4</text>
<path d="M221.8 66.28H235.7" stroke="#008000" stroke-width="1.5"/>
<text transform="translate(238.00 69.58) scale(0.9700 1)" font-size="10.00" text-anchor="start">λ = 0.5</text>
<path d="M221.8 79.06H235.7" stroke="#ff0000" stroke-width="1.5"/>
<text transform="translate(238.00 82.36) scale(0.9700 1)" font-size="10.00" text-anchor="start">λ = 0.6</text>
<path d="M221.8 91.84H235.7" stroke="#00bfbf" stroke-width="1.5"/>
<text transform="translate(238.00 95.14) scale(0.9700 1)" font-size="10.00" text-anchor="start">λ = 0.7</text>
<path d="M221.8 104.62H235.7" stroke="#bf00bf" stroke-width="1.5"/>
<text transform="translate(238.00 107.92) scale(0.9700 1)" font-size="10.00" text-anchor="start">λ = 0.8</text>
<path d="M221.8 117.40H235.7" stroke="#bfbf00" stroke-width="1.5"/>
<text transform="translate(238.00 120.70) scale(0.9700 1)" font-size="10.00" text-anchor="start">λ = 0.9</text>
<path d="M221.8 130.18H235.7" stroke="#000000" stroke-width="1.5"/>
<text transform="translate(238.00 133.48) scale(0.9700 1)" font-size="10.00" text-anchor="start">λ = 0.95</text>
<text transform="translate(552.50 40.80) scale(0.9700 1)" font-size="10.00" text-anchor="middle">λ = 0.9</text>
<path d="M520.3 53.50H534.2" stroke="#0000ff" stroke-width="1.5"/>
<text transform="translate(536.80 56.80) scale(0.9700 1)" font-size="10.00" text-anchor="start">Ω<tspan font-size="5.8" dy="1.5">0</tspan><tspan dy="-1.5">/γ</tspan><tspan font-size="5.8" dy="1.5">0</tspan><tspan dy="-1.5"> = 0.3</tspan></text>
<path d="M520.3 66.28H534.2" stroke="#008000" stroke-width="1.5"/>
<text transform="translate(536.80 69.58) scale(0.9700 1)" font-size="10.00" text-anchor="start">Ω<tspan font-size="5.8" dy="1.5">0</tspan><tspan dy="-1.5">/γ</tspan><tspan font-size="5.8" dy="1.5">0</tspan><tspan dy="-1.5"> = 0.4</tspan></text>
<path d="M520.3 79.06H534.2" stroke="#ff0000" stroke-width="1.5"/>
<text transform="translate(536.80 82.36) scale(0.9700 1)" font-size="10.00" text-anchor="start">Ω<tspan font-size="5.8" dy="1.5">0</tspan><tspan dy="-1.5">/γ</tspan><tspan font-size="5.8" dy="1.5">0</tspan><tspan dy="-1.5"> = 0.5</tspan></text>
<path d="M520.3 91.84H534.2" stroke="#00bfbf" stroke-width="1.5"/>
<text transform="translate(536.80 95.14) scale(0.9700 1)" font-size="10.00" text-anchor="start">Ω<tspan font-size="5.8" dy="1.5">0</tspan><tspan dy="-1.5">/γ</tspan><tspan font-size="5.8" dy="1.5">0</tspan><tspan dy="-1.5"> = 0.6</tspan></text>
<path d="M520.3 104.62H534.2" stroke="#bf00bf" stroke-width="1.5"/>
<text transform="translate(536.80 107.92) scale(0.9700 1)" font-size="10.00" text-anchor="start">Ω<tspan font-size="5.8" dy="1.5">0</tspan><tspan dy="-1.5">/γ</tspan><tspan font-size="5.8" dy="1.5">0</tspan><tspan dy="-1.5"> = 0.7</tspan></text>
<path d="M520.3 117.40H534.2" stroke="#bfbf00" stroke-width="1.5"/>
<text transform="translate(536.80 120.70) scale(0.9700 1)" font-size="10.00" text-anchor="start">Ω<tspan font-size="5.8" dy="1.5">0</tspan><tspan dy="-1.5">/γ</tspan><tspan font-size="5.8" dy="1.5">0</tspan><tspan dy="-1.5"> = 0.8</tspan></text>
<path d="M520.3 130.18H534.2" stroke="#000000" stroke-width="1.5"/>
<text transform="translate(536.80 133.48) scale(0.9700 1)" font-size="10.00" text-anchor="start">Ω<tspan font-size="5.8" dy="1.5">0</tspan><tspan dy="-1.5">/γ</tspan><tspan font-size="5.8" dy="1.5">0</tspan><tspan dy="-1.5"> = 0.9</tspan></text>
</svg></body></html>
